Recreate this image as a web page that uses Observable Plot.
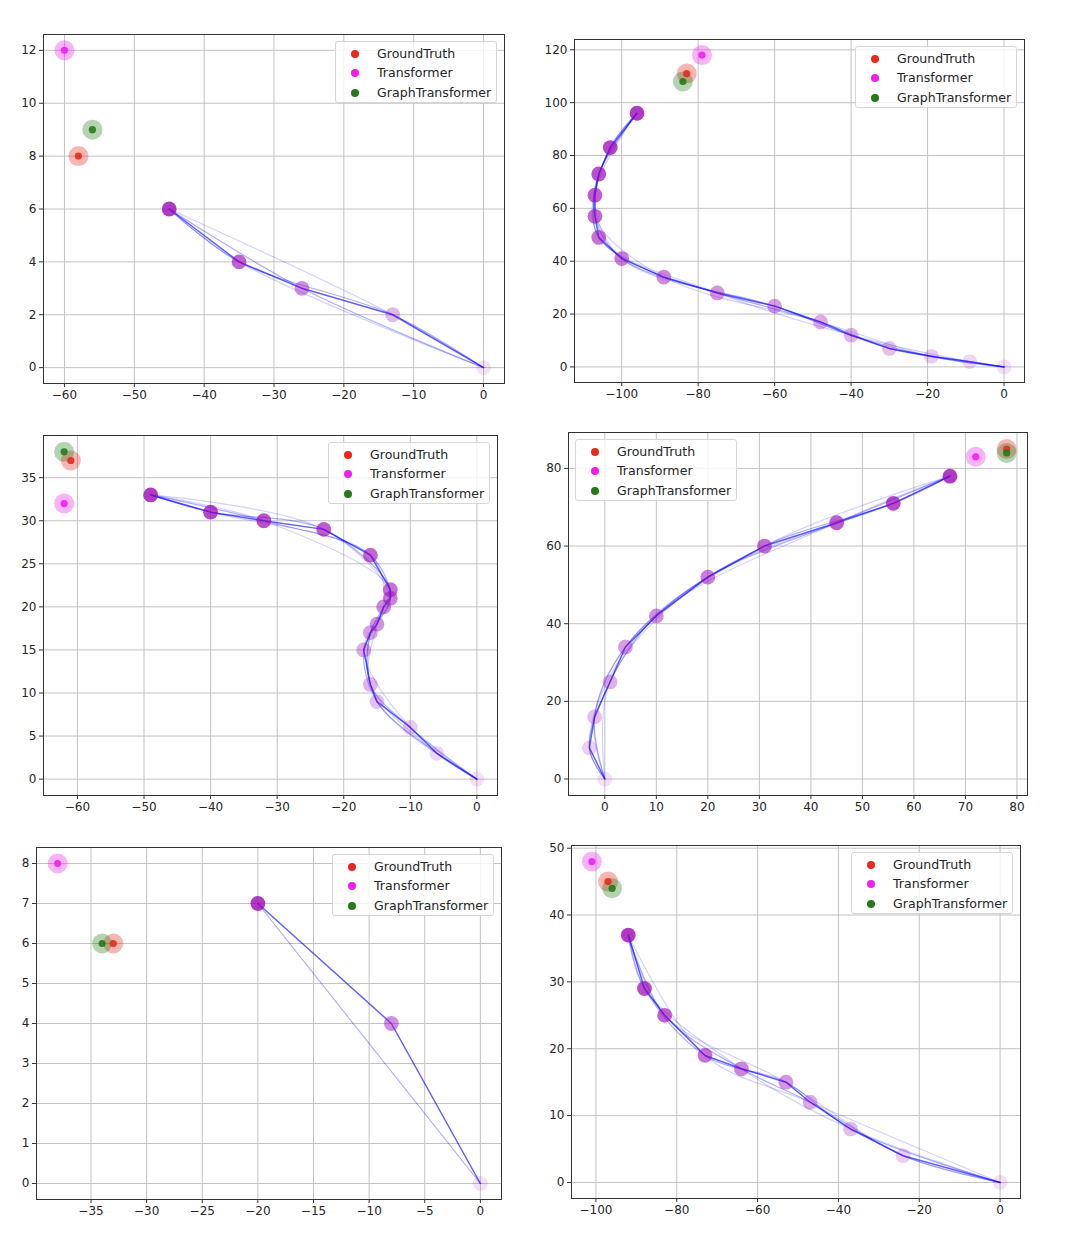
<!DOCTYPE html>
<html>
<head>
<meta charset="utf-8">
<script src="https://cdn.jsdelivr.net/npm/d3@7"></script>
<script src="https://cdn.jsdelivr.net/npm/@observablehq/plot@0.6"></script>
<style>
  html, body { margin: 0; padding: 0; background: #fff; }
  body { width: 1082px; height: 1244px; position: relative; overflow: hidden; font-family: "DejaVu Sans", sans-serif; }
  .panel { position: absolute; }
  .legend { position: absolute; width: 162px; height: 62px; box-sizing: border-box; background: rgba(255,255,255,0.8);
            border: 1px solid #d6d6d6; border-radius: 3px; font-size: 12.6px; color: #262626; }
  .legend .row { position: absolute; left: 0; height: 16px; line-height: 16px; white-space: nowrap; }
  .legend .mk { position: absolute; width: 8px; height: 8px; border-radius: 50%; left: 15px; top: 4px; }
  .legend .tx { position: absolute; left: 41px; top: 0; }
</style>
</head>
<body>
<div id="root"></div>
<script>
// ---------- data: observed paths (origin first) ----------
const path1X = [0, -13, -26, -35, -45];
const path1Y = [0, 2, 3, 4, 6];
const path2X = [0, -9, -19, -30, -40, -48, -60, -75, -89, -100, -106, -107, -107, -106, -103, -96];
const path2Y = [0, 2, 4, 7, 12, 17, 23, 28, 34, 41, 49, 57, 65, 73, 83, 96];
const path3X = [0, -6, -10, -15, -16, -17, -16, -15, -14, -13, -13, -16, -23, -32, -40, -49];
const path3Y = [0, 3, 6, 9, 11, 15, 17, 18, 20, 21, 22, 26, 29, 30, 31, 33];
const path4X = [0, -3, -2, 1, 4, 10, 20, 31, 45, 56, 67];
const path4Y = [0, 8, 16, 25, 34, 42, 52, 60, 66, 71, 78];
const path5X = [0, -8, -20];
const path5Y = [0, 4, 7];
const path6X = [0, -24, -37, -47, -53, -64, -73, -83, -88, -92];
const path6Y = [0, 4, 8, 12, 15, 17, 19, 25, 29, 37];

// ---------- data: predicted next positions, one entry per panel ----------
const groundTruthX = [-58, -83, -61, 78, -33, -97];
const groundTruthY = [8, 111, 37, 85, 6, 45];
const transformerX = [-60, -79, -62, 72, -38, -101];
const transformerY = [12, 118, 32, 83, 8, 48];
const graphTransformerX = [-56, -84, -62, 78, -34, -96];
const graphTransformerY = [9, 108, 38, 84, 6, 44];

// ---------- tick values ----------
const xTicks1 = [-60, -50, -40, -30, -20, -10, 0];
const yTicks1 = [0, 2, 4, 6, 8, 10, 12];
const xTicks2 = [-100, -80, -60, -40, -20, 0];
const yTicks2 = [0, 20, 40, 60, 80, 100, 120];
const xTicks3 = [-60, -50, -40, -30, -20, -10, 0];
const yTicks3 = [0, 5, 10, 15, 20, 25, 30, 35];
const xTicks4 = [0, 10, 20, 30, 40, 50, 60, 70, 80];
const yTicks4 = [0, 20, 40, 60, 80];
const xTicks5 = [-35, -30, -25, -20, -15, -10, -5, 0];
const yTicks5 = [0, 1, 2, 3, 4, 5, 6, 7, 8];
const xTicks6 = [-100, -80, -60, -40, -20, 0];
const yTicks6 = [0, 10, 20, 30, 40, 50];

const seriesNames = ["GroundTruth", "Transformer", "GraphTransformer"];
const seriesColors = ["#e8291c", "#ee1fee", "#267a1a"];

// ---------- layout (frame edges in page pixels) ----------
const panels = [
  {px: path1X, py: path1Y, xt: xTicks1, yt: yTicks1, L: 43,  R: 504,  T: 34,  B: 383,  legend: "right"},
  {px: path2X, py: path2Y, xt: xTicks2, yt: yTicks2, L: 574, R: 1024, T: 39,  B: 382,  legend: "right"},
  {px: path3X, py: path3Y, xt: xTicks3, yt: yTicks3, L: 43,  R: 497,  T: 435, B: 795,  legend: "right"},
  {px: path4X, py: path4Y, xt: xTicks4, yt: yTicks4, L: 568, R: 1027, T: 432, B: 795,  legend: "left"},
  {px: path5X, py: path5Y, xt: xTicks5, yt: yTicks5, L: 36,  R: 501,  T: 847, B: 1199, legend: "right"},
  {px: path6X, py: path6Y, xt: xTicks6, yt: yTicks6, L: 571, R: 1020, T: 845, B: 1198, legend: "right"}
];

const mL = 45, mR = 10, mT = 10, mB = 30;
const fmt = d3.format("d");
const root = document.getElementById("root");

panels.forEach((p, k) => {
  const n = p.px.length;
  const pts = p.px.map((x, i) => ({x, y: p.py[i], o: 0.12 + 0.68 * i / (n - 1)}));
  const preds = [
    {x: groundTruthX[k], y: groundTruthY[k], c: seriesColors[0]},
    {x: transformerX[k], y: transformerY[k], c: seriesColors[1]},
    {x: graphTransformerX[k], y: graphTransformerY[k], c: seriesColors[2]}
  ];
  const allX = p.px.concat(preds.map(d => d.x));
  const allY = p.py.concat(preds.map(d => d.y));
  const [x0, x1] = d3.extent(allX), [y0, y1] = d3.extent(allY);
  const padX = 0.05 * (x1 - x0), padY = 0.05 * (y1 - y0);

  // trajectory lines: full path plus faint skipping variants
  const lineMarks = [];
  const seen = new Set();
  [[1, 0.62], [2, 0.32], [3, 0.18]].forEach(([s, op]) => {
    for (let off = (s === 1 ? 0 : 1); off <= (s === 1 ? 0 : s); off++) {
      const idx = [0];
      for (let i = off; i < n; i += s) if (i !== 0) idx.push(i);
      if (idx[idx.length - 1] !== n - 1) idx.push(n - 1);
      const key = idx.join(",");
      if (seen.has(key) || idx.length < 2) continue;
      seen.add(key);
      lineMarks.push(Plot.line(idx.map(i => pts[i]), {
        x: "x", y: "y", stroke: "#0000ff", strokeOpacity: op,
        strokeWidth: s === 1 ? 1.5 : 1.2, curve: s === 1 ? "linear" : "catmull-rom", clip: true
      }));
    }
  });

  const W = (p.R - p.L) + mL + mR, H = (p.B - p.T) + mT + mB;
  const chart = Plot.plot({
    width: W, height: H,
    marginLeft: mL, marginRight: mR, marginTop: mT, marginBottom: mB,
    style: {fontFamily: "DejaVu Sans", fontSize: "12px", color: "#262626", background: "transparent", overflow: "visible"},
    x: {domain: [x0 - padX, x1 + padX]},
    y: {domain: [y0 - padY, y1 + padY]},
    opacity: {type: "linear", domain: [0, 1], range: [0, 1]},
    marks: [
      Plot.gridX({ticks: p.xt, stroke: "#c2c2c2", strokeOpacity: 1, strokeWidth: 1}),
      Plot.gridY({ticks: p.yt, stroke: "#c2c2c2", strokeOpacity: 1, strokeWidth: 1}),
      ...lineMarks,
      Plot.dot(pts, {x: "x", y: "y", r: 7.4, fill: "#9c08b6", fillOpacity: "o", stroke: "none", clip: true}),
      Plot.dot(preds, {x: "x", y: "y", r: 10, fill: "c", fillOpacity: 0.34, stroke: "none", clip: true}),
      Plot.dot(preds, {x: "x", y: "y", r: 3.6, fill: "c", fillOpacity: 0.9, stroke: "none", clip: true}),
      Plot.axisX({ticks: p.xt, tickFormat: fmt, tickSize: 4, tickPadding: 3, fontSize: 12, label: null, stroke: "#333"}),
      Plot.axisY({ticks: p.yt, tickFormat: fmt, tickSize: 4, tickPadding: 3, fontSize: 12, label: null, stroke: "#333"}),
      Plot.frame({stroke: "#333", strokeWidth: 1})
    ]
  });
  const div = document.createElement("div");
  div.className = "panel";
  div.style.left = (p.L - mL) + "px";
  div.style.top = (p.T - mT) + "px";
  div.appendChild(chart);
  root.appendChild(div);

  // legend
  const lg = document.createElement("div");
  lg.className = "legend";
  lg.style.left = (p.legend === "right" ? p.R - 7 - 162 : p.L + 7) + "px";
  lg.style.top = (p.T + 7) + "px";
  seriesNames.forEach((name, j) => {
    const row = document.createElement("div");
    row.className = "row";
    row.style.top = (3.5 + j * 19.8) + "px";
    row.innerHTML = `<span class="mk" style="background:${seriesColors[j]}"></span><span class="tx">${name}</span>`;
    lg.appendChild(row);
  });
  root.appendChild(lg);
});
</script>
</body>
</html>
